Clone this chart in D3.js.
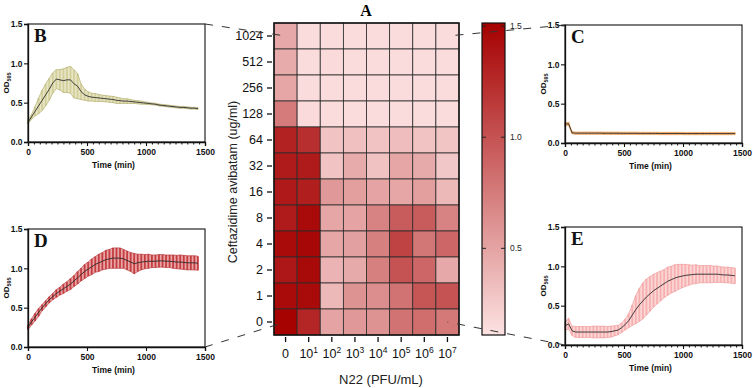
<!DOCTYPE html>
<html>
<head>
<meta charset="utf-8">
<script src="https://cdn.jsdelivr.net/npm/d3@7"></script>
<style>
  body { margin: 0; background: #fff; }
  svg { display: block; font-family: Arial, "Liberation Sans", sans-serif; }
</style>
</head>
<body>
<svg id="chart" width="753" height="388"></svg>
<script>
/* Heatmap of OD595 (ceftazidime avibactam x phage N22) with four growth-curve insets. */

// ---- heatmap data ----
const concLabels = ["1024", "512", "256", "128", "64", "32", "16", "8", "4", "2", "1", "0"];
const phageExp = ["0", "1", "2", "3", "4", "5", "6", "7"];   // 0 = no phage, else 10^n PFU/mL
const odGrid = [
  [0.47, 0.15, 0.15, 0.15, 0.15, 0.15, 0.15, 0.15],
  [0.45, 0.15, 0.16, 0.15, 0.15, 0.15, 0.15, 0.15],
  [0.48, 0.15, 0.15, 0.15, 0.15, 0.15, 0.15, 0.15],
  [0.75, 0.16, 0.15, 0.15, 0.15, 0.15, 0.15, 0.15],
  [1.30, 1.22, 0.30, 0.32, 0.30, 0.34, 0.30, 0.29],
  [1.35, 1.35, 0.30, 0.45, 0.31, 0.48, 0.46, 0.28],
  [1.36, 1.33, 0.57, 0.53, 0.50, 0.48, 0.53, 0.37],
  [1.35, 1.45, 0.48, 0.50, 0.70, 0.95, 0.95, 0.70],
  [1.45, 1.47, 0.48, 0.52, 0.72, 1.10, 0.78, 0.88],
  [1.37, 1.46, 0.40, 0.46, 0.72, 1.00, 0.88, 0.47],
  [1.45, 1.45, 0.37, 0.60, 0.63, 0.80, 0.98, 1.00],
  [1.50, 1.28, 0.50, 0.57, 0.60, 0.80, 0.83, 0.77]
];
const barTicks = [0.5, 1.0, 1.5];

// ---- growth curves (time in min) ----
const times = [0, 30, 60, 90, 120, 150, 180, 210, 240, 270, 300, 330, 360, 390, 420, 450, 480, 510, 540, 570,
  600, 630, 660, 690, 720, 750, 780, 810, 840, 870, 900, 930, 960, 990, 1020, 1050, 1080, 1110, 1140, 1170,
  1200, 1230, 1260, 1290, 1320, 1350, 1380, 1410, 1440];

const meanB = [0.25, 0.32, 0.39, 0.46, 0.53, 0.60, 0.67, 0.75, 0.80, 0.79,
  0.78, 0.79, 0.79, 0.74, 0.71, 0.64, 0.60, 0.58, 0.57, 0.565,
  0.56, 0.555, 0.55, 0.545, 0.54, 0.53, 0.525, 0.52, 0.52, 0.515,
  0.51, 0.505, 0.50, 0.495, 0.49, 0.485, 0.48, 0.47, 0.465, 0.46,
  0.455, 0.45, 0.445, 0.44, 0.44, 0.435, 0.43, 0.43, 0.425];
const sdB = [0.02, 0.03, 0.06, 0.10, 0.13, 0.14, 0.14, 0.13, 0.12, 0.13,
  0.15, 0.16, 0.17, 0.18, 0.16, 0.10, 0.07, 0.06, 0.05, 0.05,
  0.045, 0.04, 0.04, 0.04, 0.04, 0.04, 0.035, 0.03, 0.03, 0.025,
  0.02, 0.02, 0.02, 0.015, 0.015, 0.012, 0.012, 0.012, 0.012, 0.012,
  0.012, 0.012, 0.012, 0.012, 0.012, 0.012, 0.012, 0.012, 0.012];

const meanC = [0.24, 0.245, 0.13, 0.125, 0.125, 0.125, 0.125, 0.125, 0.125, 0.125,
  0.125, 0.124, 0.124, 0.124, 0.124, 0.124, 0.123, 0.123, 0.123, 0.123,
  0.123, 0.122, 0.122, 0.122, 0.122, 0.122, 0.122, 0.121, 0.121, 0.121,
  0.121, 0.121, 0.121, 0.121, 0.12, 0.12, 0.12, 0.12, 0.12, 0.12,
  0.12, 0.12, 0.12, 0.12, 0.12, 0.12, 0.12, 0.12, 0.12];
const sdC = [0.02, 0.02, 0.015, 0.015, 0.015, 0.015, 0.015, 0.015, 0.015, 0.015,
  0.015, 0.015, 0.015, 0.015, 0.015, 0.015, 0.015, 0.015, 0.015, 0.015,
  0.015, 0.015, 0.015, 0.015, 0.015, 0.015, 0.015, 0.015, 0.015, 0.015,
  0.015, 0.015, 0.015, 0.015, 0.015, 0.015, 0.015, 0.015, 0.015, 0.015,
  0.015, 0.015, 0.015, 0.015, 0.015, 0.015, 0.015, 0.015, 0.015];

const meanD = [0.25, 0.32, 0.38, 0.44, 0.50, 0.55, 0.60, 0.64, 0.68, 0.71,
  0.74, 0.77, 0.80, 0.84, 0.88, 0.92, 0.96, 0.99, 1.02, 1.05,
  1.07, 1.09, 1.11, 1.12, 1.13, 1.13, 1.13, 1.12, 1.10, 1.08,
  1.06, 1.07, 1.08, 1.085, 1.09, 1.09, 1.09, 1.095, 1.095, 1.09,
  1.09, 1.085, 1.08, 1.08, 1.075, 1.07, 1.07, 1.07, 1.065];
const sdD = [0.03, 0.04, 0.05, 0.05, 0.04, 0.04, 0.04, 0.04, 0.05, 0.05,
  0.06, 0.06, 0.07, 0.07, 0.08, 0.08, 0.09, 0.09, 0.10, 0.10,
  0.11, 0.11, 0.12, 0.12, 0.13, 0.13, 0.13, 0.12, 0.12, 0.12,
  0.13, 0.11, 0.10, 0.09, 0.09, 0.08, 0.08, 0.08, 0.08, 0.08,
  0.08, 0.085, 0.085, 0.09, 0.09, 0.09, 0.09, 0.09, 0.09];

const meanE = [0.24, 0.27, 0.18, 0.165, 0.165, 0.165, 0.165, 0.165, 0.165, 0.165,
  0.165, 0.165, 0.165, 0.17, 0.18, 0.19, 0.22, 0.26, 0.31, 0.38,
  0.45, 0.51, 0.56, 0.61, 0.65, 0.69, 0.72, 0.75, 0.78, 0.81,
  0.83, 0.85, 0.865, 0.875, 0.885, 0.89, 0.895, 0.90, 0.90, 0.90,
  0.90, 0.90, 0.90, 0.90, 0.895, 0.89, 0.89, 0.885, 0.88];
const sdE = [0.05, 0.07, 0.06, 0.07, 0.07, 0.07, 0.07, 0.07, 0.075, 0.075,
  0.075, 0.075, 0.07, 0.07, 0.065, 0.06, 0.06, 0.07, 0.09, 0.13,
  0.18, 0.21, 0.23, 0.23, 0.22, 0.21, 0.20, 0.19, 0.18, 0.18,
  0.17, 0.17, 0.16, 0.15, 0.14, 0.13, 0.12, 0.12, 0.11, 0.11,
  0.11, 0.11, 0.105, 0.105, 0.10, 0.10, 0.10, 0.10, 0.10];

const svg = d3.select("#chart");

// ---- heatmap (A) ----
const hx = d3.scaleBand().domain(phageExp).range([274, 459]);
const hy = d3.scaleBand().domain(concLabels).range([23, 335]);
const color = d3.scaleLinear().domain([0.11, 1.514]).range(["#fde2e2", "#a50000"]);

const cells = [];
odGrid.forEach((row, r) => row.forEach((v, c) => cells.push({ r: concLabels[r], c: phageExp[c], v })));

const hm = svg.append("g");
hm.selectAll("rect.cell").data(cells).join("rect")
    .attr("class", "cell")
    .attr("x", d => hx(d.c)).attr("y", d => hy(d.r))
    .attr("width", hx.bandwidth()).attr("height", hy.bandwidth())
    .attr("fill", d => color(d.v))
    .attr("stroke", "#2b2b2b").attr("stroke-width", 0.8);
hm.append("rect")
    .attr("x", 274).attr("y", 23).attr("width", 185).attr("height", 312)
    .attr("fill", "none").attr("stroke", "#111").attr("stroke-width", 1.5);

// y axis (concentrations)
const yAx = hm.append("g").attr("transform", "translate(272,0)")
    .call(d3.axisLeft(hy).tickSize(5).tickPadding(4));
yAx.select(".domain").remove();
yAx.selectAll("line").attr("stroke", "#111").attr("stroke-width", 1.3);
yAx.selectAll("text").attr("font-size", 12.5).attr("fill", "#111")
    .attr("font-family", "Arial, 'Liberation Sans', sans-serif");

// x axis (phage titre, 10^n)
const xAx = hm.append("g").attr("transform", "translate(0,337)")
    .call(d3.axisBottom(hx).tickSize(5).tickPadding(7).tickFormat(() => ""));
xAx.select(".domain").remove();
xAx.selectAll("line").attr("stroke", "#111").attr("stroke-width", 1.3);
xAx.selectAll(".tick text").each(function(d){
  const t = d3.select(this).attr("font-size", 12.5).attr("fill", "#111")
      .attr("font-family", "Arial, 'Liberation Sans', sans-serif");
  if (d === "0") { t.text("0"); return; }
  t.text("10");
  t.append("tspan").attr("dy", "-0.55em").attr("font-size", 8.5).text(d);
});

hm.append("text").attr("x", 381).attr("y", 384).attr("text-anchor", "middle")
    .attr("font-size", 13).attr("fill", "#222").text("N22 (PFU/mL)");
hm.append("text").attr("transform", "translate(237,182) rotate(-90)")
    .attr("text-anchor", "middle").attr("font-size", 12.5).attr("fill", "#222")
    .text("Ceftazidime avibatam (ug/ml)");
hm.append("text").attr("x", 366).attr("y", 16).attr("text-anchor", "middle")
    .attr("font-family", "'Liberation Serif', 'Times New Roman', serif")
    .attr("font-weight", "bold").attr("font-size", 16).text("A");

// ---- colour bar ----
const barY = d3.scaleLinear().domain([0.11, 1.514]).range([335, 23]);
const grad = svg.append("defs").append("linearGradient").attr("id", "odgrad")
    .attr("x1", 0).attr("y1", 1).attr("x2", 0).attr("y2", 0);
d3.range(0, 1.0001, 0.1).forEach(f => {
  grad.append("stop").attr("offset", f)
      .attr("stop-color", color(barY.domain()[0] + f * (barY.domain()[1] - barY.domain()[0])));
});
const bar = svg.append("g");
bar.append("rect").attr("x", 482).attr("y", 23).attr("width", 23).attr("height", 312)
    .attr("fill", "url(#odgrad)").attr("stroke", "#111").attr("stroke-width", 1.2);
bar.selectAll("line.l").data(barTicks).join("line")
    .attr("x1", 482).attr("x2", 486).attr("y1", d => barY(d)).attr("y2", d => barY(d))
    .attr("stroke", "#222").attr("stroke-width", 1);
bar.selectAll("line.r").data(barTicks).join("line")
    .attr("x1", 501).attr("x2", 505).attr("y1", d => barY(d)).attr("y2", d => barY(d))
    .attr("stroke", "#222").attr("stroke-width", 1);
bar.selectAll("text").data(barTicks).join("text")
    .attr("x", 510).attr("y", d => barY(d)).attr("dy", "0.35em")
    .attr("font-size", 8.5).attr("fill", "#222").text(d => d.toFixed(1));

// ---- growth-curve insets ----
function drawPanel(p){
  const x = d3.scaleLinear().domain([0, 1500]).range(p.xr);
  const y = d3.scaleLinear().domain([0, 1.5]).range(p.yr);
  const g = svg.append("g");
  const pts = times.map((t, i) => ({ t, m: p.mean[i], s: p.sd[i] }));

  g.append("path").datum(pts)
      .attr("d", d3.area().x(d => x(d.t)).y0(d => y(d.m - d.s)).y1(d => y(d.m + d.s)))
      .attr("fill", p.fill);
  // error bars give the striped look
  g.selectAll("line.eb").data(pts).join("line")
      .attr("x1", d => x(d.t)).attr("x2", d => x(d.t))
      .attr("y1", d => y(d.m - d.s)).attr("y2", d => y(d.m + d.s))
      .attr("stroke", p.bar).attr("stroke-width", 1.8);
  ["lo", "hi"].forEach(k => {
    g.append("path").datum(pts)
        .attr("d", d3.line().x(d => x(d.t)).y(d => y(k === "lo" ? d.m - d.s : d.m + d.s)))
        .attr("fill", "none").attr("stroke", p.edge).attr("stroke-width", 0.6);
  });
  g.append("path").datum(pts)
      .attr("d", d3.line().x(d => x(d.t)).y(d => y(d.m)))
      .attr("fill", "none").attr("stroke", "#2a2a2a").attr("stroke-width", 0.9);

  // frame
  g.append("rect").attr("x", p.xr[0]).attr("y", p.yr[1])
      .attr("width", p.xr[1] - p.xr[0]).attr("height", p.yr[0] - p.yr[1])
      .attr("fill", "none").attr("stroke", "#111").attr("stroke-width", 1.1);

  const ya = g.append("g").attr("transform", `translate(${p.xr[0]},0)`)
      .call(d3.axisLeft(y).tickValues([0, 0.5, 1, 1.5]).tickFormat(d3.format(".1f")).tickSize(4).tickPadding(1.5));
  const xa = g.append("g").attr("transform", `translate(0,${p.yr[0]})`)
      .call(d3.axisBottom(x).tickValues([0, 500, 1000, 1500]).tickFormat(d3.format("d")).tickSize(4).tickPadding(2.5));
  if (p.minor) {
    const xm = g.append("g").attr("transform", `translate(0,${p.yr[0]})`)
        .call(d3.axisBottom(x).tickValues(d3.range(0, 1500, 50)).tickFormat(() => "").tickSize(2.5));
    xm.select(".domain").remove();
    xm.selectAll("line").attr("stroke", "#111").attr("stroke-width", 1);
  }
  [ya, xa].forEach(a => {
    a.select(".domain").attr("stroke", "#111").attr("stroke-width", 1.3);
    a.selectAll("line").attr("stroke", "#111").attr("stroke-width", 1.1);
    a.selectAll("text").attr("font-size", 8.5).attr("font-weight", "bold").attr("fill", "#111")
        .attr("font-family", "Arial, 'Liberation Sans', sans-serif");
  });

  const midY = (p.yr[0] + p.yr[1]) / 2;
  const od = g.append("text").attr("transform", `translate(${p.xr[0] - 19},${midY}) rotate(-90)`)
      .attr("text-anchor", "middle").attr("font-size", 8).attr("font-weight", "bold").attr("fill", "#111");
  od.append("tspan").text("OD");
  od.append("tspan").attr("font-size", 5.5).attr("dy", "0.35em").text("595");

  g.append("text").attr("x", (p.xr[0] + p.xr[1]) / 2 - 3).attr("y", p.yr[0] + 26)
      .attr("text-anchor", "middle").attr("font-size", 8.5).attr("font-weight", "bold").attr("fill", "#111")
      .text("Time (min)");
  g.append("text").attr("x", p.xr[0] + 6).attr("y", p.yr[1] + 18)
      .attr("font-family", "'Liberation Serif', 'Times New Roman', serif")
      .attr("font-weight", "bold").attr("font-size", 19).attr("fill", "#111").text(p.letter);
  return { x, y };
}

const pB = drawPanel({ letter: "B", xr: [28, 205], yr: [142, 24], mean: meanB, sd: sdB,
  fill: "#e8e5c4", bar: "#d3cf9c", edge: "#a8a55e", minor: true });
const pC = drawPanel({ letter: "C", xr: [565, 742], yr: [143, 25], mean: meanC, sd: sdC,
  fill: "#f8c796", bar: "#f3ab68", edge: "#e99445", minor: true });
const pD = drawPanel({ letter: "D", xr: [28, 205], yr: [347, 229], mean: meanD, sd: sdD,
  fill: "#e9a5a6", bar: "#c43e41", edge: "#b02a2d", minor: false });
const pE = drawPanel({ letter: "E", xr: [565, 742], yr: [345, 227], mean: meanE, sd: sdE,
  fill: "#fbd6d6", bar: "#f6b0b0", edge: "#f09393", minor: true });

// ---- dashed zoom lines from the corner cells to their insets ----
const cx = c => hx(c) + hx.bandwidth() / 2;
const cy = r => hy(r) + hy.bandwidth() / 2;
const links = [
  { x1: pB.x.range()[1], y1: pB.y.range()[1], x2: cx("0"), y2: cy("1024") },
  { x1: pC.x.range()[0], y1: pC.y.range()[1], x2: cx("7"), y2: cy("1024") },
  { x1: pD.x.range()[1], y1: pD.y.range()[0], x2: cx("0"), y2: cy("0") },
  { x1: pE.x.range()[0], y1: pE.y.range()[0], x2: cx("7"), y2: cy("0") }
];
svg.append("g").selectAll("line").data(links).join("line")
    .attr("x1", d => d.x1).attr("y1", d => d.y1).attr("x2", d => d.x2).attr("y2", d => d.y2)
    .attr("stroke", "#333").attr("stroke-width", 1).attr("stroke-dasharray", "8,9");
</script>
</body>
</html>
